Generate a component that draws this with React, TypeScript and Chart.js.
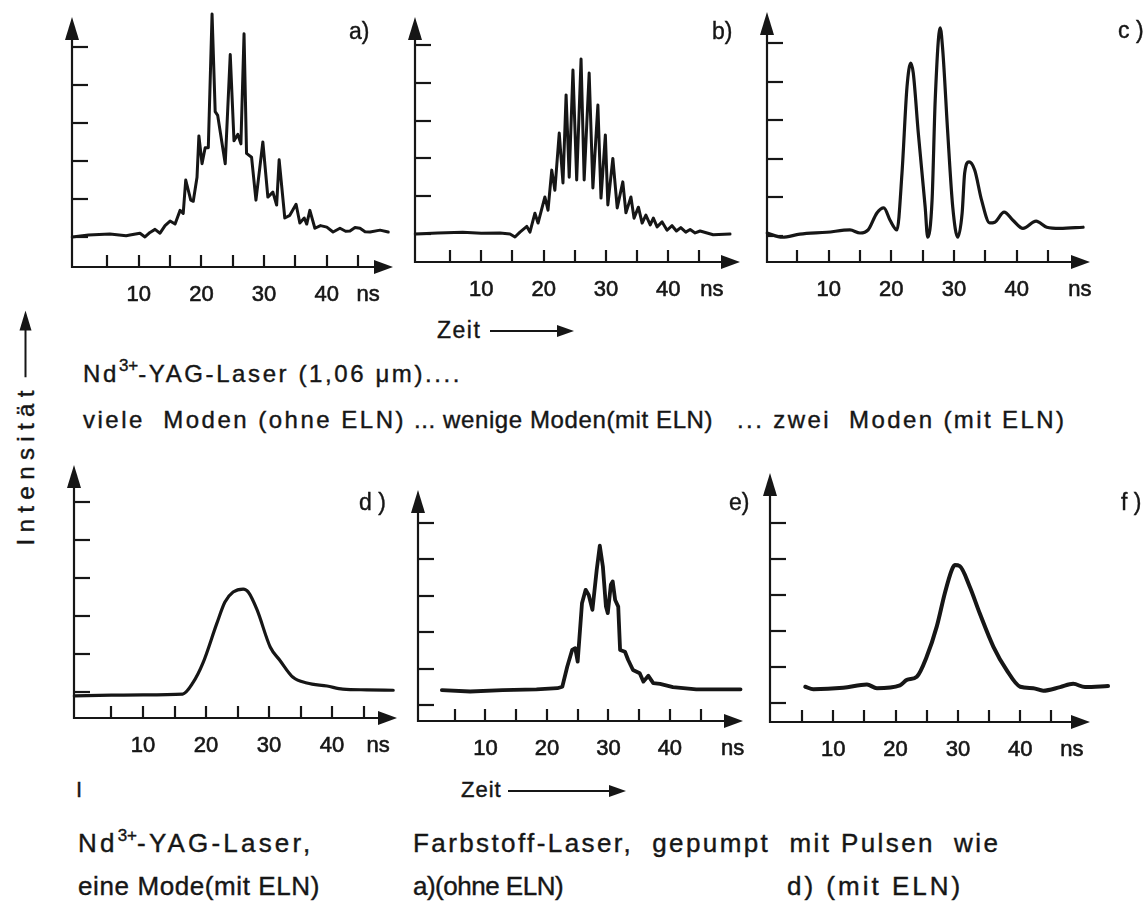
import React, { useEffect, useRef } from 'react';
import { Chart, registerables } from 'chart.js';

Chart.register(...registerables);

const INK = '#161616';
const FONT = '"Liberation Sans", Arial, sans-serif';

// shared axis ticks (ns and relative intensity units)
const xTickValues = [5, 10, 15, 20, 25, 30, 35, 40, 45];
const xLabelValues = [10, 20, 30, 40];
const xLabelTexts = ['10', '20', '30', '40'];
const yTickValues = [0, 1, 2, 3, 4, 5];

// a) viele Moden (ohne ELN)
const timeA = [-0.6, 2, 5.4, 8, 8.6, 10.2, 11.0, 11.8, 12.6, 13.4, 14.2, 15.0, 15.8, 16.6, 17.1, 17.5, 18.3, 18.7, 19.3, 19.6, 20.1, 20.6, 21.1, 21.7, 22.2, 22.6, 23.8, 24.6, 25.2, 25.8, 26.3, 26.8, 27.2, 28.0, 28.7, 29.8, 30.6, 31.4, 32.0, 32.4, 33.3, 34.1, 35.1, 35.7, 36.4, 36.8, 37.3, 38.1, 39.0, 40.0, 41.0, 42.1, 43.0, 43.7, 44.5, 45.3, 46.1, 46.9, 48.5, 49.8];
const intensityA = [0.0, 0.05, 0.08, 0.03, 0.05, 0.1, 0.0, 0.12, 0.2, 0.1, 0.3, 0.42, 0.34, 0.7, 0.62, 1.5, 0.97, 0.94, 1.57, 2.66, 1.93, 2.35, 2.35, 5.87, 3.3, 3.2, 1.93, 4.8, 2.53, 2.7, 2.45, 5.35, 2.2, 2.1, 0.97, 2.5, 1.05, 1.18, 0.84, 2.03, 0.5, 0.57, 0.86, 0.37, 0.5, 0.34, 0.7, 0.23, 0.3, 0.26, 0.13, 0.23, 0.15, 0.16, 0.25, 0.23, 0.14, 0.13, 0.18, 0.13];

// b) wenige Moden (mit ELN)
const timeB = [-0.6, 3, 7, 10, 13, 14.6, 15.4, 16.2, 17.3, 17.8, 18.6, 19.1, 20.2, 20.7, 21.3, 21.8, 22.5, 23.1, 23.6, 24.1, 24.7, 25.3, 26.0, 26.5, 27.3, 27.9, 28.7, 29.2, 29.9, 30.3, 31.1, 31.8, 32.7, 33.2, 34.0, 34.5, 35.2, 35.8, 36.4, 37.1, 37.6, 38.2, 39.0, 39.8, 40.6, 41.3, 42.0, 42.8, 43.5, 44.3, 45.1, 47.2, 49.9];
const intensityB = [0, 0.03, 0.05, 0.02, 0.03, 0.0, -0.08, 0.05, 0.2, 0.05, 0.55, 0.29, 0.98, 0.63, 1.69, 1.16, 2.67, 1.35, 3.68, 1.5, 4.34, 1.43, 4.63, 1.43, 4.26, 1.22, 3.41, 0.95, 2.62, 0.77, 2.0, 0.69, 1.38, 0.56, 0.98, 0.42, 0.71, 0.29, 0.5, 0.24, 0.42, 0.19, 0.32, 0.1, 0.22, 0.08, 0.17, 0.05, 0.12, 0.03, 0.08, -0.02, 0];

// c) zwei Moden (mit ELN)
const timeC = [0.2, 2.6, 5.4, 9.7, 13.4, 15.0, 16.3, 17.7, 18.8, 19.8, 20.9, 21.7, 22.5, 23.1, 23.5, 24.3, 25.4, 25.8, 26.5, 27.0, 27.8, 28.2, 29.0, 29.8, 30.6, 31.3, 31.7, 32.4, 33.3, 34.4, 35.7, 36.5, 38.0, 39.4, 41.0, 43.1, 44.8, 46.9, 50.6];
const intensityC = [0.08, -0.03, 0.05, 0.1, 0.16, 0.08, 0.16, 0.6, 0.73, 0.41, 0.16, 1.63, 3.86, 4.48, 4.22, 2.67, 0.75, -0.03, 0.93, 3.52, 5.39, 4.82, 2.67, 0.75, -0.03, 0.6, 1.63, 1.92, 1.71, 0.93, 0.34, 0.36, 0.62, 0.41, 0.2, 0.39, 0.23, 0.2, 0.23];

// d) eine Mode (mit ELN)
const timeD = [-0.9, 5, 10, 16.3, 17.9, 19.5, 21.7, 23.0, 24.3, 25.9, 26.7, 28.1, 30.2, 31.7, 33.8, 36.0, 39.2, 41.7, 45.5, 49.7];
const intensityD = [-0.1, -0.08, -0.07, -0.05, 0.24, 0.76, 1.8, 2.37, 2.63, 2.71, 2.63, 2.16, 1.18, 0.84, 0.39, 0.24, 0.16, 0.08, 0.06, 0.05];

// e) Farbstoff-Laser, gepumpt wie a)
const timeE = [2.9, 7.5, 12.8, 18.3, 21.7, 22.5, 23.3, 24.1, 24.6, 25.0, 25.7, 26.3, 26.8, 27.4, 28.1, 28.6, 29.1, 29.6, 29.9, 30.4, 30.7, 31.1, 31.6, 31.9, 32.7, 33.2, 34.0, 35.1, 35.7, 36.5, 37.3, 38.4, 40.5, 44.3, 51.5];
const intensityE = [0.41, 0.37, 0.41, 0.43, 0.46, 0.5, 1.05, 1.51, 1.56, 1.19, 2.79, 3.16, 3.02, 2.61, 3.71, 4.37, 3.8, 2.7, 2.52, 3.3, 3.39, 2.88, 2.7, 1.51, 1.46, 1.24, 0.96, 0.87, 0.64, 0.8, 0.6, 0.58, 0.49, 0.43, 0.43];

// f) Farbstoff-Laser, gepumpt wie d)
const timeF = [5.5, 6.8, 11.6, 15.4, 17.0, 20.7, 21.8, 23.4, 25.0, 26.6, 27.9, 29.0, 29.5, 30.3, 31.9, 33.5, 35.7, 37.8, 40.0, 42.1, 43.7, 46.4, 48.5, 50.4, 54.1];
const intensityF = [0.45, 0.38, 0.42, 0.51, 0.41, 0.49, 0.64, 0.73, 1.29, 2.12, 3.05, 3.69, 3.83, 3.8, 3.23, 2.49, 1.56, 0.92, 0.45, 0.41, 0.34, 0.44, 0.53, 0.44, 0.47];

type PanelCfg = {
  key: string;
  time: number[];
  intensity: number[];
  box: { l: number; t: number; r: number; b: number };
  xr: [number, number];
  yr: [number, number];
  nsAt: number;
  lw: number;
  smooth: boolean;
};

const panels: PanelCfg[] = [
  { key: 'a', time: timeA, intensity: intensityA, box: { l: 72, t: 17, r: 393, b: 267 }, xr: [-0.64, 50.56], yr: [-0.79, 5.79], nsAt: 46.6, lw: 3, smooth: false },
  { key: 'b', time: timeB, intensity: intensityB, box: { l: 415, t: 17, r: 740, b: 262 }, xr: [-0.64, 51.5], yr: [-0.74, 5.74], nsAt: 47.0, lw: 3, smooth: false },
  { key: 'c', time: timeC, intensity: intensityC, box: { l: 767, t: 12, r: 1090, b: 262 }, xr: [0.16, 51.7], yr: [-0.67, 5.8], nsAt: 50.1, lw: 3.2, smooth: true },
  { key: 'd', time: timeD, intensity: intensityD, box: { l: 74, t: 465, r: 397, b: 718 }, xr: [-0.95, 50.3], yr: [-0.68, 5.97], nsAt: 47.3, lw: 3.2, smooth: true },
  { key: 'e', time: timeE, intensity: intensityE, box: { l: 418, t: 490, r: 743, b: 721 }, xr: [-0.98, 51.9], yr: [-0.44, 5.9], nsAt: 50.2, lw: 3.8, smooth: false },
  { key: 'f', time: timeF, intensity: intensityF, box: { l: 770, t: 473, r: 1090, b: 722 }, xr: [-0.16, 51.2], yr: [-0.53, 6.39], nsAt: 48.3, lw: 4, smooth: true },
];

const PL = 22, PT = 16, PR = 34, PB = 50;

function Panel({ cfg }: { cfg: PanelCfg }) {
  const ref = useRef<HTMLCanvasElement>(null);
  const w = cfg.box.r - cfg.box.l + PL + PR;
  const h = cfg.box.b - cfg.box.t + PT + PB;

  useEffect(() => {
    if (!ref.current) return;
    const points = cfg.time.map((t, i) => ({ x: t, y: cfg.intensity[i] }));
    const axesPlugin = {
      id: 'oscAxes' + cfg.key,
      beforeDatasetsDraw(chart: any) {
        const { ctx, chartArea, scales } = chart;
        const { left, right, top, bottom } = chartArea;
        const xs = scales.x, ys = scales.y;
        ctx.save();
        ctx.strokeStyle = INK;
        ctx.fillStyle = INK;
        ctx.lineWidth = 2.2;
        // y axis with arrow
        ctx.beginPath();
        ctx.moveTo(left, bottom + 1);
        ctx.lineTo(left, top + 18);
        ctx.stroke();
        ctx.beginPath();
        ctx.moveTo(left, top);
        ctx.lineTo(left - 7, top + 23);
        ctx.lineTo(left + 7, top + 23);
        ctx.closePath();
        ctx.fill();
        // x axis with arrow
        ctx.beginPath();
        ctx.moveTo(left - 1, bottom);
        ctx.lineTo(right - 14, bottom);
        ctx.stroke();
        ctx.beginPath();
        ctx.moveTo(right, bottom);
        ctx.lineTo(right - 19, bottom - 7);
        ctx.lineTo(right - 19, bottom + 7);
        ctx.closePath();
        ctx.fill();
        // y ticks (inward)
        yTickValues.forEach((v) => {
          const py = Math.round(ys.getPixelForValue(v));
          ctx.beginPath();
          ctx.moveTo(left, py);
          ctx.lineTo(left + 16, py);
          ctx.stroke();
        });
        // x ticks (inward)
        xTickValues.forEach((t) => {
          const px = Math.round(xs.getPixelForValue(t));
          ctx.beginPath();
          ctx.moveTo(px, bottom);
          ctx.lineTo(px, bottom - 12);
          ctx.stroke();
        });
        // tick labels
        ctx.font = `22px ${FONT}`;
        ctx.textAlign = 'center';
        ctx.textBaseline = 'middle';
        ctx.lineWidth = 0.6;
        const put = (txt: string, px: number) => {
          ctx.fillText(txt, px, bottom + 28);
          ctx.strokeText(txt, px, bottom + 28);
        };
        xLabelValues.forEach((v, i) => put(xLabelTexts[i], xs.getPixelForValue(v)));
        put('ns', xs.getPixelForValue(cfg.nsAt));
        ctx.restore();
      },
    };
    const chart = new Chart(ref.current, {
      type: 'line',
      data: {
        datasets: [
          {
            data: points,
            borderColor: INK,
            borderWidth: cfg.lw,
            pointRadius: 0,
            tension: 0,
            cubicInterpolationMode: cfg.smooth ? 'monotone' : 'default',
            fill: false,
            clip: false,
            borderJoinStyle: 'round',
            borderCapStyle: 'round',
          } as any,
        ],
      },
      options: {
        animation: false,
        responsive: false,
        events: [],
        layout: { padding: { left: PL, top: PT, right: PR, bottom: PB } },
        plugins: { legend: { display: false }, tooltip: { enabled: false } },
        scales: {
          x: { type: 'linear', display: false, min: cfg.xr[0], max: cfg.xr[1] },
          y: { type: 'linear', display: false, min: cfg.yr[0], max: cfg.yr[1] },
        },
      },
      plugins: [axesPlugin],
    });
    return () => chart.destroy();
  }, []);

  return (
    <canvas
      ref={ref}
      width={w}
      height={h}
      style={{ position: 'absolute', left: cfg.box.l - PL, top: cfg.box.t - PT, width: w, height: h }}
    />
  );
}

function T({ x, y, size = 24, ls = 0, children }: { x: number; y: number; size?: number; ls?: number; children: any }) {
  return (
    <div
      style={{
        position: 'absolute',
        left: x,
        top: y - size / 2,
        fontSize: size,
        lineHeight: `${size}px`,
        letterSpacing: ls,
        whiteSpace: 'pre',
        fontFamily: FONT,
        color: INK,
        WebkitTextStroke: `0.4px ${INK}`,
      }}
    >
      {children}
    </div>
  );
}

function Arrow({ x, y, len }: { x: number; y: number; len: number }) {
  return (
    <svg style={{ position: 'absolute', left: x, top: y - 8 }} width={len} height={16}>
      <line x1={0} y1={8} x2={len - 12} y2={8} stroke={INK} strokeWidth={2} />
      <polygon points={`${len},8 ${len - 17},2 ${len - 17},14`} fill={INK} />
    </svg>
  );
}

const Sup = ({ children }: { children: any }) => (
  <span style={{ fontSize: 17, position: 'relative', top: -11, letterSpacing: 0 }}>{children}</span>
);

export default function App() {
  return (
    <div style={{ position: 'absolute', left: 0, top: 0, width: 1147, height: 903, background: '#fff', overflow: 'hidden' }}>
      {panels.map((p) => (
        <Panel key={p.key} cfg={p} />
      ))}

      {/* panel letters */}
      <T x={349} y={31} size={23}>a)</T>
      <T x={712} y={31} size={23}>b)</T>
      <T x={1118} y={30} size={23}>{'c )'}</T>
      <T x={359} y={502} size={23}>{'d )'}</T>
      <T x={729} y={502} size={23}>e)</T>
      <T x={1121} y={502} size={23}>{'f )'}</T>

      {/* top captions */}
      <T x={437} y={330} size={23} ls={1.5}>Zeit</T>
      <Arrow x={490} y={331} len={84} />
      <T x={83} y={374} size={24} ls={2.6}>
        Nd<Sup>3+</Sup>-YAG-Laser (1,06 μm)....
      </T>
      <T x={83} y={420} size={24} ls={2.5}>{'viele  Moden (ohne ELN)'}</T>
      <T x={414} y={420} size={24} ls={0.6}>{'... wenige Moden(mit ELN)'}</T>
      <T x={737} y={420} size={24} ls={2.4}>{'... zwei  Moden (mit ELN)'}</T>

      {/* rotated y label */}
      <div
        style={{
          position: 'absolute',
          left: 25 - 117.5,
          top: 427.5 - 14,
          width: 235,
          height: 28,
          transform: 'rotate(-90deg)',
          transformOrigin: '50% 50%',
          display: 'flex',
          alignItems: 'center',
          fontFamily: FONT,
          fontSize: 24,
          color: INK,
          whiteSpace: 'pre',
          WebkitTextStroke: `0.4px ${INK}`,
        }}
      >
        <span style={{ display: 'inline-block', width: 160, letterSpacing: 6.4 }}>Intensität</span>
        <svg width={67} height={16} style={{ marginLeft: 8 }}>
          <line x1={0} y1={8} x2={54} y2={8} stroke={INK} strokeWidth={2} />
          <polygon points="67,8 47,2 47,14" fill={INK} />
        </svg>
      </div>

      {/* bottom captions */}
      <T x={76} y={790} size={22}>I</T>
      <T x={461} y={790} size={22} ls={1}>Zeit</T>
      <Arrow x={508} y={791} len={118} />
      <T x={78} y={843} size={26} ls={3.2}>
        Nd<Sup>3+</Sup>-YAG-Laser,
      </T>
      <T x={413} y={843} size={26} ls={2.4}>{'Farbstoff-Laser,  gepumpt  mit Pulsen  wie'}</T>
      <T x={78} y={886} size={26} ls={0.6}>{'eine Mode(mit ELN)'}</T>
      <T x={413} y={886} size={26} ls={-0.5}>{'a)(ohne ELN)'}</T>
      <T x={787} y={886} size={26} ls={3}>{'d) (mit ELN)'}</T>
    </div>
  );
}
